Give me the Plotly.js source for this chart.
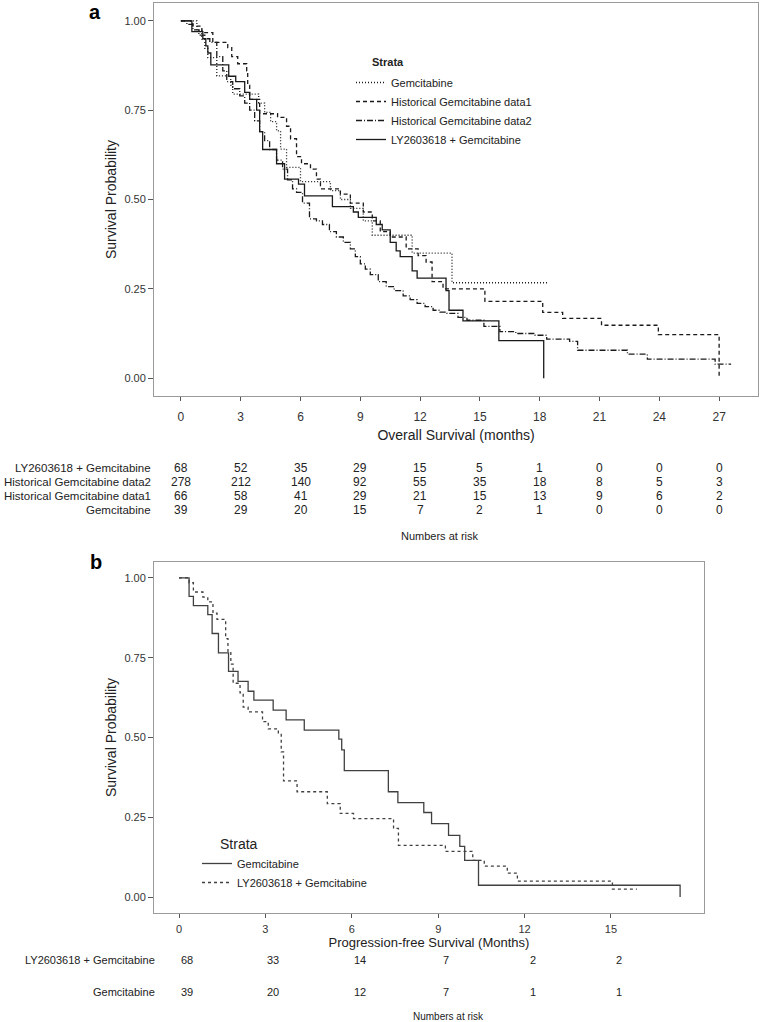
<!DOCTYPE html>
<html>
<head>
<meta charset="utf-8">
<script src="https://cdn.plot.ly/plotly-3.0.1.min.js"></script>
<style>body{margin:0;background:#fff}</style>
</head>
<body>
<div id="km" style="width:763px;height:1022px"></div>
<script>
// panel a - overall survival, step curves (months, survival probability)
var osGemT = [0, 0.8, 1.05, 1.2, 1.35, 1.8, 2.5, 2.6, 3.9, 4.2, 4.5, 4.8, 5.0, 5.3, 6.0, 7.5, 8.0, 8.5, 9.15, 9.6, 11.6, 13.6, 18.4];
var osGemS = [1, 0.974, 0.949, 0.923, 0.897, 0.846, 0.82, 0.795, 0.77, 0.744, 0.718, 0.692, 0.641, 0.59, 0.55, 0.525, 0.5, 0.475, 0.44, 0.40, 0.35, 0.267, 0.267];

var osHist1T = [0, 0.6, 1.05, 1.6, 2.35, 2.55, 2.85, 3.3, 3.35, 3.45, 3.95, 4.85, 5.3, 5.5, 5.8, 6.05, 6.5, 6.8, 7.0, 8.0, 8.5, 9.15, 9.6, 10.0, 10.5, 11.3, 11.9, 12.3, 12.6, 13.15, 15.25, 18.15, 19.15, 21.1, 23.95, 27.0];
var osHist1S = [1, 0.985, 0.967, 0.94, 0.925, 0.90, 0.88, 0.86, 0.82, 0.78, 0.74, 0.73, 0.705, 0.67, 0.62, 0.60, 0.585, 0.557, 0.53, 0.515, 0.49, 0.465, 0.44, 0.41, 0.395, 0.362, 0.343, 0.325, 0.27, 0.25, 0.215, 0.184, 0.167, 0.148, 0.122, 0];

var osHist2T = [0, 0.3, 0.6, 0.9, 1.2, 1.45, 1.8, 2.1, 2.3, 2.6, 2.95, 3.2, 3.45, 3.7, 3.95, 4.2, 4.45, 4.8, 5.1, 5.35, 5.6, 5.8, 6.1, 6.45, 6.8, 7.1, 7.45, 7.8, 8.15, 8.5, 8.75, 9.0, 9.25, 9.5, 9.9, 10.3, 10.7, 11.15, 11.5, 11.85, 12.25, 12.65, 13.0, 13.35, 13.9, 14.35, 15.2, 16.0, 16.8, 17.7, 18.35, 19.5, 19.9, 22.4, 23.4, 26.8, 27.6];
var osHist2S = [1, 0.99, 0.975, 0.96, 0.95, 0.94, 0.90, 0.86, 0.83, 0.81, 0.79, 0.77, 0.75, 0.72, 0.69, 0.665, 0.64, 0.61, 0.585, 0.555, 0.53, 0.52, 0.49, 0.446, 0.44, 0.43, 0.41, 0.395, 0.38, 0.362, 0.34, 0.32, 0.305, 0.29, 0.27, 0.256, 0.245, 0.23, 0.22, 0.209, 0.2, 0.19, 0.185, 0.181, 0.17, 0.162, 0.145, 0.13, 0.125, 0.12, 0.109, 0.103, 0.078, 0.067, 0.053, 0.039, 0.039];

var osLyT = [0, 0.55, 1.1, 1.25, 1.35, 1.5, 2.4, 2.75, 3.2, 3.45, 3.8, 3.95, 4.1, 4.8, 5.2, 5.9, 6.2, 7.6, 8.65, 8.9, 9.8, 10.1, 10.5, 10.8, 11.0, 11.6, 11.85, 13.3, 13.45, 14.15, 15.95, 18.2];
var osLyS = [1, 0.97, 0.95, 0.93, 0.91, 0.877, 0.845, 0.83, 0.80, 0.78, 0.75, 0.69, 0.64, 0.60, 0.557, 0.543, 0.51, 0.48, 0.465, 0.45, 0.43, 0.415, 0.38, 0.356, 0.34, 0.30, 0.28, 0.245, 0.19, 0.16, 0.105, 0];

// panel b - progression-free survival
var pfsGemT = [0, 0.35, 0.5, 1.0, 1.15, 1.37, 1.72, 2.05, 2.4, 2.6, 3.27, 3.72, 4.35, 5.55, 5.65, 5.74, 7.27, 7.6, 8.5, 8.77, 9.36, 9.75, 9.92, 10.4, 17.4];
var pfsGemS = [1, 0.942, 0.913, 0.885, 0.826, 0.765, 0.707, 0.676, 0.645, 0.617, 0.586, 0.555, 0.523, 0.495, 0.461, 0.396, 0.33, 0.296, 0.265, 0.23, 0.193, 0.159, 0.115, 0.037, 0];

var pfsLyT = [0, 0.35, 0.5, 0.83, 1.0, 1.18, 1.32, 1.62, 1.7, 1.8, 1.88, 2.12, 2.23, 2.4, 2.9, 3.1, 3.45, 3.55, 3.63, 4.1, 5.15, 5.6, 6.06, 7.45, 7.62, 9.25, 10.2, 10.6, 11.4, 11.75, 15.05, 15.9];
var pfsLyS = [1, 0.985, 0.956, 0.94, 0.925, 0.89, 0.87, 0.81, 0.77, 0.73, 0.67, 0.64, 0.595, 0.58, 0.55, 0.527, 0.51, 0.455, 0.364, 0.33, 0.293, 0.262, 0.246, 0.215, 0.162, 0.143, 0.115, 0.097, 0.075, 0.05, 0.025, 0.025];

// numbers at risk
var osRiskTimes = [0, 3, 6, 9, 12, 15, 18, 21, 24, 27];
var osRiskLabels = ['LY2603618 + Gemcitabine', 'Historical Gemcitabine data2', 'Historical Gemcitabine data1', 'Gemcitabine'];
var osRiskLy = [68, 52, 35, 29, 15, 5, 1, 0, 0, 0];
var osRiskHist2 = [278, 212, 140, 92, 55, 35, 18, 8, 5, 3];
var osRiskHist1 = [66, 58, 41, 29, 21, 15, 13, 9, 6, 2];
var osRiskGem = [39, 29, 20, 15, 7, 2, 1, 0, 0, 0];

var pfsRiskTimes = [0, 3, 6, 9, 12, 15];
var pfsRiskLabels = ['LY2603618 + Gemcitabine', 'Gemcitabine'];
var pfsRiskLy = [68, 33, 14, 7, 2, 2];
var pfsRiskGem = [39, 20, 12, 7, 1, 1];

var H = 1022, W = 763;
function py(p) { return 1 - p / H; }
function px(p) { return p / W; }

var font = 'Liberation Sans, Arial, sans-serif';
var ink = '#1a1a1a';

function km(t, s, name, dash, xa, ya, leg, col) {
  return {
    x: t, y: s, name: name, type: 'scatter', mode: 'lines',
    line: {shape: 'hv', color: col, width: 1.3, dash: dash},
    xaxis: xa, yaxis: ya, legend: leg, legendgroup: name + leg,
    hoverinfo: 'x+y+name'
  };
}

var data = [
  km(osGemT, osGemS, 'Gemcitabine', '1px,2px', 'x', 'y', 'legend', ink),
  km(osHist1T, osHist1S, 'Historical Gemcitabine data1', '4px,3px', 'x', 'y', 'legend', ink),
  km(osHist2T, osHist2S, 'Historical Gemcitabine data2', '6px,2px,1px,2px', 'x', 'y', 'legend', ink),
  km(osLyT, osLyS, 'LY2603618 + Gemcitabine', 'solid', 'x', 'y', 'legend', ink),
  km(pfsGemT, pfsGemS, 'Gemcitabine', 'solid', 'x2', 'y2', 'legend2', '#404040'),
  km(pfsLyT, pfsLyS, 'LY2603618 + Gemcitabine', '3px,3px', 'x2', 'y2', 'legend2', '#404040')
];

function xax(domain, range, ticks, title, anchor, tsize, lstand, tstand, titlesize) {
  return {
    domain: domain, range: range, anchor: anchor,
    tickvals: ticks, ticks: 'outside', ticklen: 4, tickcolor: '#555',
    ticklabelstandoff: lstand,
    showline: true, mirror: true, linecolor: '#9a9a9a', linewidth: 1,
    showgrid: false, zeroline: false,
    tickfont: {family: font, size: tsize, color: '#333'},
    title: {text: title, font: {family: font, size: titlesize, color: '#222'}, standoff: tstand}
  };
}
function yax(domain, anchor) {
  return {
    domain: domain, range: [-0.05, 1.05], anchor: anchor,
    tickvals: [0, 0.25, 0.5, 0.75, 1], tickformat: '.2f',
    ticks: 'outside', ticklen: 5, tickcolor: '#555',
    showline: true, mirror: true, linecolor: '#9a9a9a', linewidth: 1,
    showgrid: false, zeroline: false,
    tickfont: {family: font, size: 11, color: '#333'},
    title: {text: 'Survival Probability', font: {family: font, size: 14, color: '#222'}, standoff: 4}
  };
}

var ann = [];
function txt(x, y, s, size, xref, anchor, extra) {
  var a = {x: x, y: y, xref: xref, yref: 'paper', text: s, showarrow: false,
    xanchor: anchor, yanchor: 'middle', font: {family: font, size: size, color: '#222'}};
  for (var k in extra) a[k] = extra[k];
  ann.push(a);
}

// panel letters and legend titles
txt(px(95), py(12), '<b>a</b>', 20, 'paper', 'center', {font: {family: font, size: 20, color: '#000'}});
txt(px(96), py(562), '<b>b</b>', 20, 'paper', 'center', {font: {family: font, size: 20, color: '#000'}});
txt(px(370), py(62), '<b>Strata</b>', 11, 'paper', 'left');
txt(px(218), py(844), 'Strata', 14, 'paper', 'left');

// risk table a
var osRows = [osRiskLy, osRiskHist2, osRiskHist1, osRiskGem];
var osRowY = [468, 482, 496, 510];
osRows.forEach(function (row, i) {
  txt(px(153), py(osRowY[i]), osRiskLabels[i], 11.5, 'paper', 'right');
  row.forEach(function (v, j) {
    txt(osRiskTimes[j], py(osRowY[i]), String(v), 12, 'x', 'center');
  });
});
txt(px(440), py(536), 'Numbers at risk', 11, 'paper', 'center');

// risk table b
var pfsRows = [pfsRiskLy, pfsRiskGem];
var pfsRowY = [960, 992];
pfsRows.forEach(function (row, i) {
  txt(px(157), py(pfsRowY[i]), pfsRiskLabels[i], 11, 'paper', 'right');
  row.forEach(function (v, j) {
    txt(pfsRiskTimes[j], py(pfsRowY[i]), String(v), 11, 'x2', 'center', {xshift: 8});
  });
});
txt(px(448), py(1016), 'Numbers at risk', 10, 'paper', 'center');

var layout = {
  width: W, height: H,
  margin: {l: 0, r: 0, t: 0, b: 0},
  paper_bgcolor: '#fff', plot_bgcolor: '#fff',
  font: {family: font, color: '#222'},
  xaxis: xax([px(154), px(758)], [-1.35, 28.95], osRiskTimes, 'Overall Survival (months)', 'y', 12, 6, 6, 14),
  yaxis: yax([py(396), py(3)], 'x'),
  xaxis2: xax([px(154), px(704)], [-0.868, 18.23], pfsRiskTimes, 'Progression-free Survival (Months)', 'y2', 11, 2, 1, 13),
  yaxis2: yax([py(913), py(562)], 'x2'),
  legend: {x: px(351), y: py(68), xanchor: 'left', yanchor: 'top', bgcolor: 'rgba(0,0,0,0)',
    font: {family: font, size: 11, color: '#222'}, tracegroupgap: 0, itemwidth: 30},
  legend2: {x: px(197), y: py(849), xanchor: 'left', yanchor: 'top', bgcolor: 'rgba(0,0,0,0)',
    font: {family: font, size: 11, color: '#222'}, tracegroupgap: 0, itemwidth: 30},
  annotations: ann,
  showlegend: true
};

Plotly.newPlot('km', data, layout, {displayModeBar: false, staticPlot: true});
</script>
</body>
</html>
